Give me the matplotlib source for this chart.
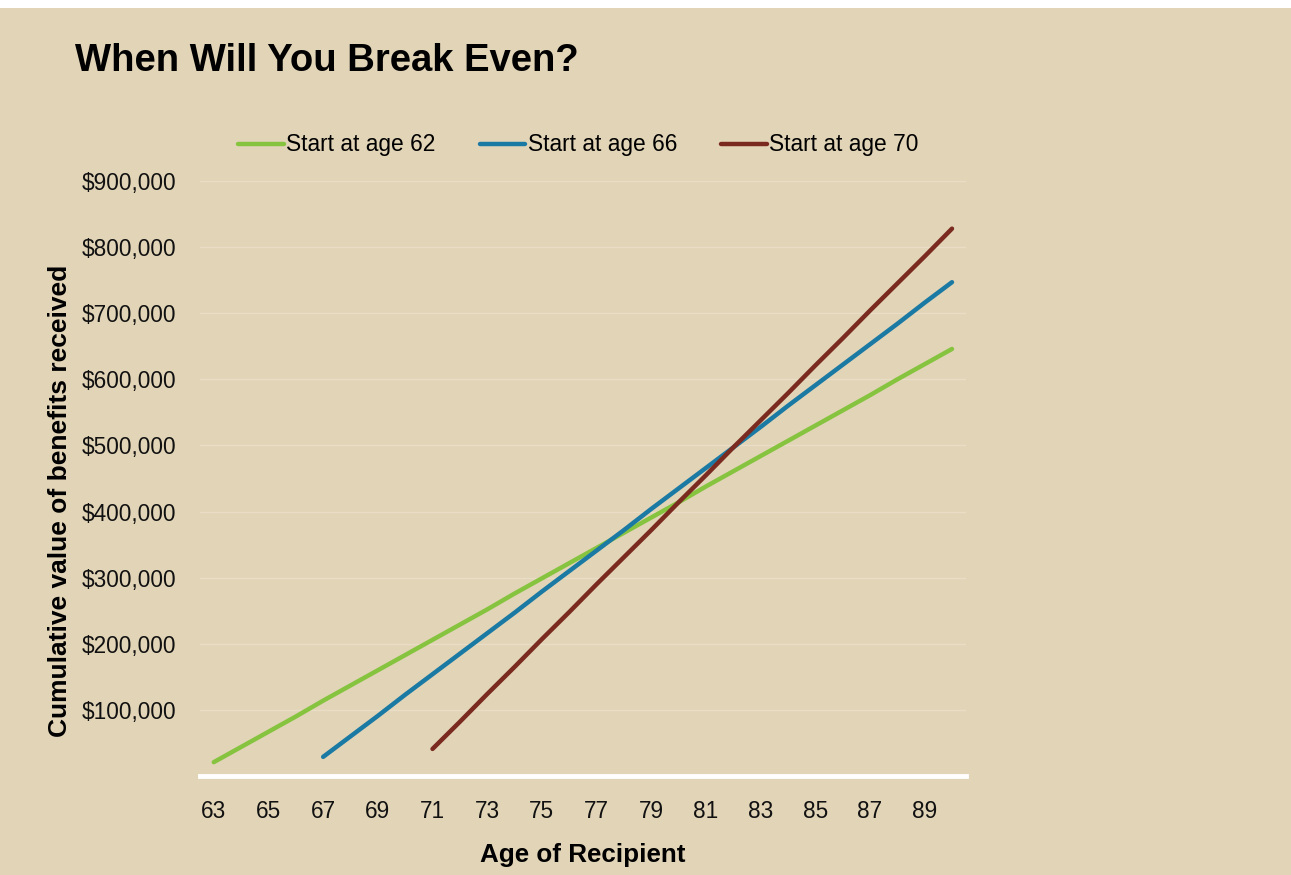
import matplotlib
matplotlib.use("Agg")
import matplotlib.pyplot as plt
from matplotlib.ticker import FuncFormatter

plt.rcParams["font.family"] = ["Liberation Sans", "DejaVu Sans"]

# cumulative benefits received, by age of recipient
ages_62 = list(range(63, 91))
vals_62 = [21000, 44000, 67000, 90000, 114000, 137000, 160000, 183000, 206000, 229000,
           252000, 276000, 299000, 322000, 345000, 368000, 391000, 414000, 438000, 461000,
           484000, 507000, 530000, 553000, 576000, 600000, 623000, 646000]

ages_66 = list(range(67, 91))
vals_66 = [29000, 60000, 91000, 123000, 154000, 185000, 216000, 247000, 279000, 310000,
           341000, 372000, 404000, 435000, 466000, 497000, 528000, 560000, 591000, 622000,
           653000, 684000, 716000, 747000]

ages_70 = list(range(71, 91))
vals_70 = [41000, 82000, 124000, 165000, 207000, 248000, 290000, 331000, 372000, 414000,
           455000, 497000, 538000, 579000, 621000, 662000, 704000, 745000, 786000, 828000]

series_labels = ["Start at age 62", "Start at age 66", "Start at age 70"]
colors = ["#86C440", "#1B7AA3", "#7A2A1F"]
x_ticks = list(range(63, 90, 2))
y_ticks = [100000, 200000, 300000, 400000, 500000, 600000, 700000, 800000, 900000]

bg = "#E2D4B7"
fig = plt.figure(figsize=(12.91, 8.75), dpi=100, facecolor=bg)
fig.patches.append(plt.Rectangle((0, 1 - 8 / 875), 1, 8 / 875, transform=fig.transFigure,
                                 facecolor="white", edgecolor="none", zorder=0))
ax = fig.add_axes([0.155, 0.1131, 0.593, 0.680])
ax.set_facecolor(bg)

for xs, ys, lab, c in zip([ages_62, ages_66, ages_70], [vals_62, vals_66, vals_70],
                          series_labels, colors):
    ax.plot(xs, ys, color=c, lw=3.2, label=lab, solid_capstyle="round", zorder=3)

ax.set_xlim(62.5, 90.5)
ax.set_ylim(0, 900000)
ax.set_xticks(x_ticks)
ax.set_yticks(y_ticks)
ax.yaxis.set_major_formatter(FuncFormatter(lambda v, p: "${:,.0f}".format(v)))
ax.tick_params(length=0, labelsize=16.3, colors="#111111")
ax.tick_params(axis="x", pad=17)
ax.tick_params(axis="y", pad=17)
ax.grid(axis="y", color="#EADDC5", lw=1)
ax.set_axisbelow(True)
for s in ["top", "right", "left"]:
    ax.spines[s].set_visible(False)
ax.spines["bottom"].set_color("white")
ax.spines["bottom"].set_linewidth(3.5)
ax.spines["bottom"].set_zorder(2)

ax.set_xlabel("Age of Recipient", fontsize=18.7, fontweight="bold", labelpad=15)
ax.set_ylabel("Cumulative value of benefits received", fontsize=19, fontweight="bold",
              labelpad=7)
ax.yaxis.label.set_y(0.462)

fig.text(75 / 1291, 1 - 71 / 875, "When Will You Break Even?", fontsize=27.5,
         fontweight="bold", ha="left", va="baseline")

leg = fig.legend(loc="center left", bbox_to_anchor=(0.1845, 1 - 145 / 875), ncol=3,
                 frameon=False, fontsize=16.4, handlelength=2.0, handletextpad=0.1,
                 columnspacing=1.95, borderaxespad=0, borderpad=0)

fig.savefig("out.png", dpi=100, facecolor=bg)
